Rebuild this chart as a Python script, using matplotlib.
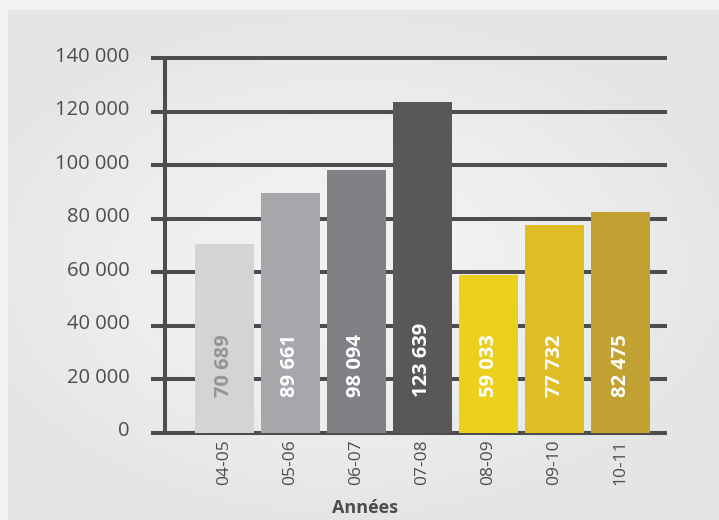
import matplotlib
matplotlib.use("Agg")
import numpy as np
import matplotlib.pyplot as plt
import matplotlib.transforms as mtransforms

# Données
annees = ["04-05", "05-06", "06-07", "07-08", "08-09", "09-10", "10-11"]
valeurs = [70689, 89661, 98094, 123639, 59033, 77732, 82475]
couleurs = ["#d3d4d6", "#a6a7aa", "#808184", "#58585a", "#ebd01d", "#dfbd24", "#c1a131"]
couleurs_texte = ["#949597", "white", "white", "white", "white", "white", "white"]
yticks = [0, 20000, 40000, 60000, 80000, 100000, 120000, 140000]
ytick_labels = ["0", "20 000", "40 000", "60 000", "80 000", "100 000", "120 000", "140 000"]

plt.rcParams["font.family"] = ["Open Sans", "DejaVu Sans"]
gris = "#4d4d4f"

fig = plt.figure(figsize=(7.19, 5.2), dpi=100, facecolor="#f2f2f2")

# panneau de fond avec léger dégradé radial
bg = fig.add_axes([8 / 719, 0, 711 / 719, 510 / 520], zorder=-10)
bg.axis("off")
gx, gy = np.meshgrid(np.linspace(-1, 1, 300), np.linspace(-1, 1, 220))
r = np.clip(np.sqrt(((gx + 0.05) / 1.1) ** 2 + ((gy - 0.0) / 1.0) ** 2), 0, 1)
c0, c1 = np.array([0.955, 0.955, 0.955]), np.array([0.895, 0.9, 0.9])
img = c0 + (c1 - c0) * r[..., None] ** 1.5
bg.imshow(img, aspect="auto", extent=[0, 1, 0, 1])

ax = fig.add_axes([153 / 719, 1 - 433 / 520, 512 / 719, 375 / 520])
ax.set_facecolor("none")
ax.set_xlim(-1.083, 6.674)
ax.set_ylim(0, 140000)

for y in yticks:
    ax.axhline(y, color=gris, lw=2.9, zorder=1, clip_on=False)
ax.plot([-0.902, -0.902], [0, 140000], color=gris, lw=2.9, zorder=1,
        clip_on=False, solid_capstyle="butt")

x = range(len(annees))
ax.bar(x, valeurs, width=0.894, color=couleurs, zorder=2)

for i, v in enumerate(valeurs):
    ax.text(i, 13500, f"{v:,}".replace(",", " "), rotation=90, ha="center",
            va="bottom", fontsize=14.5, fontweight="bold", color=couleurs_texte[i], zorder=3)

for s in ax.spines.values():
    s.set_visible(False)

ax.set_xticks(list(x))
ax.set_xticklabels(annees, rotation=90, fontsize=12.5, color=gris)
ax.set_yticks(yticks)
ax.set_yticklabels(ytick_labels, fontsize=14.5, color=gris)
ax.tick_params(axis="x", length=0, pad=4.3)
ax.tick_params(axis="y", length=0, pad=17)

offset = mtransforms.ScaledTranslation(0, 4 / 100, fig.dpi_scale_trans)
for lbl in ax.get_yticklabels():
    lbl.set_transform(lbl.get_transform() + offset)

fig.text(365 / 719, 1 - 508 / 520, "Années", ha="center", va="center",
         fontsize=13, fontweight="bold", color=gris)

fig.savefig("out.png", dpi=100, facecolor=fig.get_facecolor())
